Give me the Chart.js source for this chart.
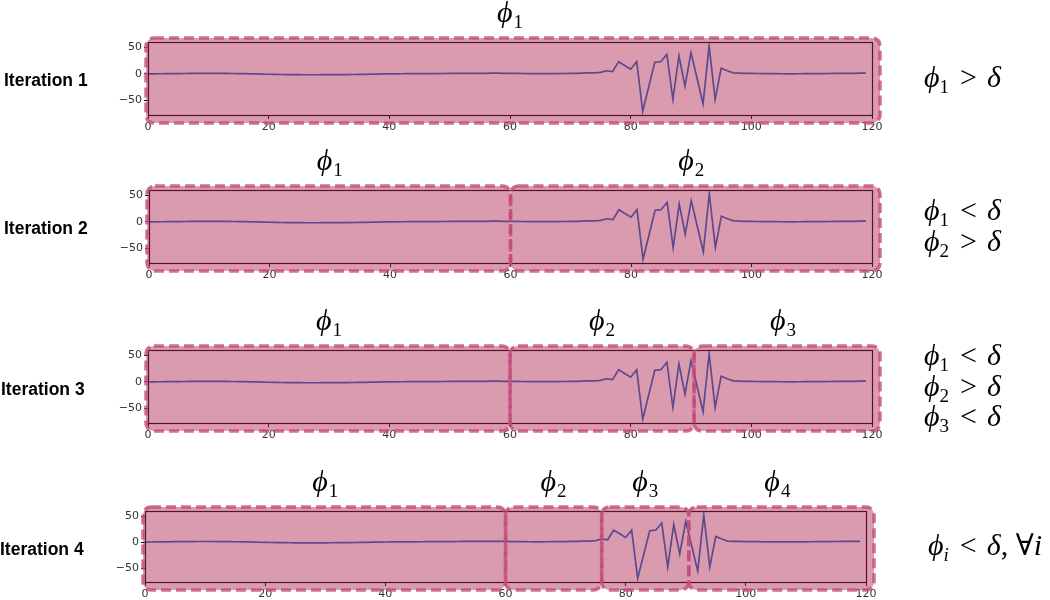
<!DOCTYPE html>
<html>
<head>
<meta charset="utf-8">
<script src="https://cdn.jsdelivr.net/npm/chart.js@4.4.1/dist/chart.umd.min.js"></script>
<style>
  html,body{margin:0;padding:0;background:#fff;width:1050px;height:600px;overflow:hidden;position:relative;}
  canvas{position:absolute;left:0;}
  .it{position:absolute;font-family:"Liberation Sans",Arial,sans-serif;font-weight:bold;font-size:17.5px;color:#000;}
  .f{position:absolute;font-family:"Liberation Serif","DejaVu Serif",serif;font-size:30px;color:#000;line-height:30.5px;white-space:nowrap;}
  .f i{font-style:italic;}
  .f sub{font-size:19px;vertical-align:-6px;line-height:0;}
  .f .op{padding:0 10px 0 11px;}
</style>
</head>
<body>
<canvas id="c1" width="1050" height="140" style="top:0px"></canvas>
<canvas id="c2" width="1050" height="140" style="top:148px"></canvas>
<canvas id="c3" width="1050" height="140" style="top:308px"></canvas>
<canvas id="c4" width="1050" height="138" style="top:469px"></canvas>

<div class="it" style="left:4px;top:70px">Iteration 1</div>
<div class="it" style="left:4px;top:218px">Iteration 2</div>
<div class="it" style="left:1px;top:379px">Iteration 3</div>
<div class="it" style="left:0px;top:539px">Iteration 4</div>

<div class="f" style="left:924px;top:62px"><i>ϕ</i><sub>1</sub><span class="op">&gt;</span><i>δ</i></div>
<div class="f" style="left:924px;top:195px"><i>ϕ</i><sub>1</sub><span class="op">&lt;</span><i>δ</i><br><i>ϕ</i><sub>2</sub><span class="op">&gt;</span><i>δ</i></div>
<div class="f" style="left:924px;top:340px"><i>ϕ</i><sub>1</sub><span class="op">&lt;</span><i>δ</i><br><i>ϕ</i><sub>2</sub><span class="op">&gt;</span><i>δ</i><br><i>ϕ</i><sub>3</sub><span class="op">&lt;</span><i>δ</i></div>
<div class="f" style="left:928px;top:530px"><i>ϕ</i><sub><i>i</i></sub><span class="op">&lt;</span><i>δ</i>, ∀<i>i</i></div>

<script>
// ---- data ----
const signal = [
  0, 0.2, 0.4, 0.5, 0.6, 0.8, 0.9, 1.0, 1.0, 1.1,
  1.1, 1.1, 1.0, 1.0, 0.9, 0.7, 0.5, 0.3, 0.0, -0.3,
  -0.5, -0.8, -1.0, -1.2, -1.3, -1.4, -1.5, -1.5, -1.5, -1.4,
  -1.4, -1.3, -1.2, -1.1, -1.0, -0.8, -0.6, -0.4, -0.2, 0.0,
  0.2, 0.3, 0.4, 0.5, 0.6, 0.6, 0.7, 0.8, 0.8, 0.9,
  1.0, 1.0, 1.1, 1.2, 1.2, 1.3, 1.3, 1.4, 1.4, 1.3,
  1.2, 1.0, 0.9, 0.8, 0.7, 0.6, 0.6, 0.7, 0.8, 0.9,
  1.0, 1.2, 1.5, 2.0, 2.0, 3.0, 6.0, 4.5, 23, 16,
  9, 23, -70, -24, 22, 23, 37, -48, 34, -23,
  40, -8, -56, 53, -48, 11, 6, 2, 1.5, 1.2,
  1.0, 0.9, 0.8, 0.6, 0.5, 0.4, 0.3, 0.3, 0.4, 0.5,
  0.6, 0.7, 0.8, 0.9, 1.0, 1.1, 1.2, 1.3, 1.4, 1.5
];
const xTicks = [0, 20, 40, 60, 80, 100, 120];
const yTicks = [-50, 0, 50];
const iter1Bounds = [0, 120];
const iter2Bounds = [0, 60, 120];
const iter3Bounds = [0, 60, 90.5, 120];
const iter4Bounds = [0, 60, 76, 90.5, 120];
const iter1Labels = ['1'];
const iter2Labels = ['1', '2'];
const iter3Labels = ['1', '2', '3'];
const iter4Labels = ['1', '2', '3', '4'];

const fmt = v => (v < 0 ? '\u2212' + Math.abs(v) : String(v));

const segPlugin = {
  id: 'segs',
  afterDatasetsDraw(chart) {
    const {ctx, chartArea: a} = chart;
    ctx.save();
    ctx.strokeStyle = '#000';
    ctx.lineWidth = 1.2;
    ctx.strokeRect(Math.round(a.left) + 0.5, Math.round(a.top) + 0.5, Math.round(a.right - a.left), Math.round(a.bottom - a.top));
    ctx.restore();
  },
  afterDraw(chart, args, opts) {
    const {ctx, chartArea: a, scales: {x}} = chart;
    const b = opts.bounds, labs = opts.labels;
    const top = a.top - 4, bot = a.bottom + 8;
    ctx.save();
    for (let i = 0; i < b.length - 1; i++) {
      let x0 = x.getPixelForValue(b[i]);
      let x1 = x.getPixelForValue(b[i + 1]);
      const l = i === 0 ? x0 - 2 : x0;
      const r = i === b.length - 2 ? x1 + 8 : x1;
      ctx.beginPath();
      ctx.roundRect(l, top, r - l, bot - top, 8);
      ctx.fillStyle = 'rgba(178,42,84,0.47)';
      ctx.fill();
      ctx.setLineDash([10, 5]);
      ctx.lineWidth = 3.5;
      ctx.strokeStyle = 'rgba(195,75,125,0.8)';
      ctx.stroke();
      // label
      const cx = (x0 + x1) / 2;
      ctx.setLineDash([]);
      ctx.fillStyle = '#000';
      ctx.textBaseline = 'alphabetic';
      ctx.font = 'italic 30px "Liberation Serif", "DejaVu Serif", serif';
      const w1 = ctx.measureText('ϕ').width;
      ctx.font = '19px "Liberation Serif", "DejaVu Serif", serif';
      const w2 = ctx.measureText(labs[i]).width;
      const sx = cx - (w1 + w2 + 1) / 2;
      ctx.font = 'italic 30px "Liberation Serif", "DejaVu Serif", serif';
      ctx.fillText('ϕ', sx, a.top - 20);
      ctx.font = '19px "Liberation Serif", "DejaVu Serif", serif';
      ctx.fillText(labs[i], sx + w1 + 1, a.top - 14);
    }
    ctx.restore();
  }
};

function makeChart(id, bounds, labels, padL, padR) {
  return new Chart(document.getElementById(id), {
    type: 'line',
    data: {
      datasets: [{
        data: signal.map((v, i) => ({x: i, y: v})),
        borderColor: '#1565c0',
        borderWidth: 1.7,
        pointRadius: 0,
        tension: 0,
        fill: false
      }]
    },
    options: {
      responsive: false,
      animation: false,
      events: [],
      layout: {padding: {left: padL, right: padR, top: 42, bottom: 3}},
      plugins: {legend: {display: false}, tooltip: {enabled: false}, segs: {bounds, labels}},
      scales: {
        x: {
          type: 'linear', min: 0, max: 120,
          afterBuildTicks: s => { s.ticks = xTicks.map(v => ({value: v})); },
          afterFit: s => { s.height = 22; },
          border: {display: false},
          grid: {display: true, drawOnChartArea: false, drawTicks: true, tickLength: 4, color: '#000', lineWidth: 1},
          ticks: {font: {family: 'DejaVu Sans', size: 11}, color: '#333', padding: 2, maxRotation: 0, autoSkip: false}
        },
        y: {
          type: 'linear', min: -77, max: 60,
          afterBuildTicks: s => { s.ticks = yTicks.map(v => ({value: v})); },
          afterFit: s => { s.width = 40; },
          border: {display: false},
          grid: {display: true, drawOnChartArea: false, drawTicks: true, tickLength: 4, color: '#000', lineWidth: 1},
          ticks: {font: {family: 'DejaVu Sans', size: 11}, color: '#333', padding: 2, callback: v => fmt(v)}
        }
      }
    },
    plugins: [segPlugin]
  });
}

makeChart('c1', iter1Bounds, iter1Labels, 108, 178);
makeChart('c2', iter2Bounds, iter2Labels, 109, 178);
makeChart('c3', iter3Bounds, iter3Labels, 108, 178);
makeChart('c4', iter4Bounds, iter4Labels, 105, 184);
</script>
</body>
</html>
